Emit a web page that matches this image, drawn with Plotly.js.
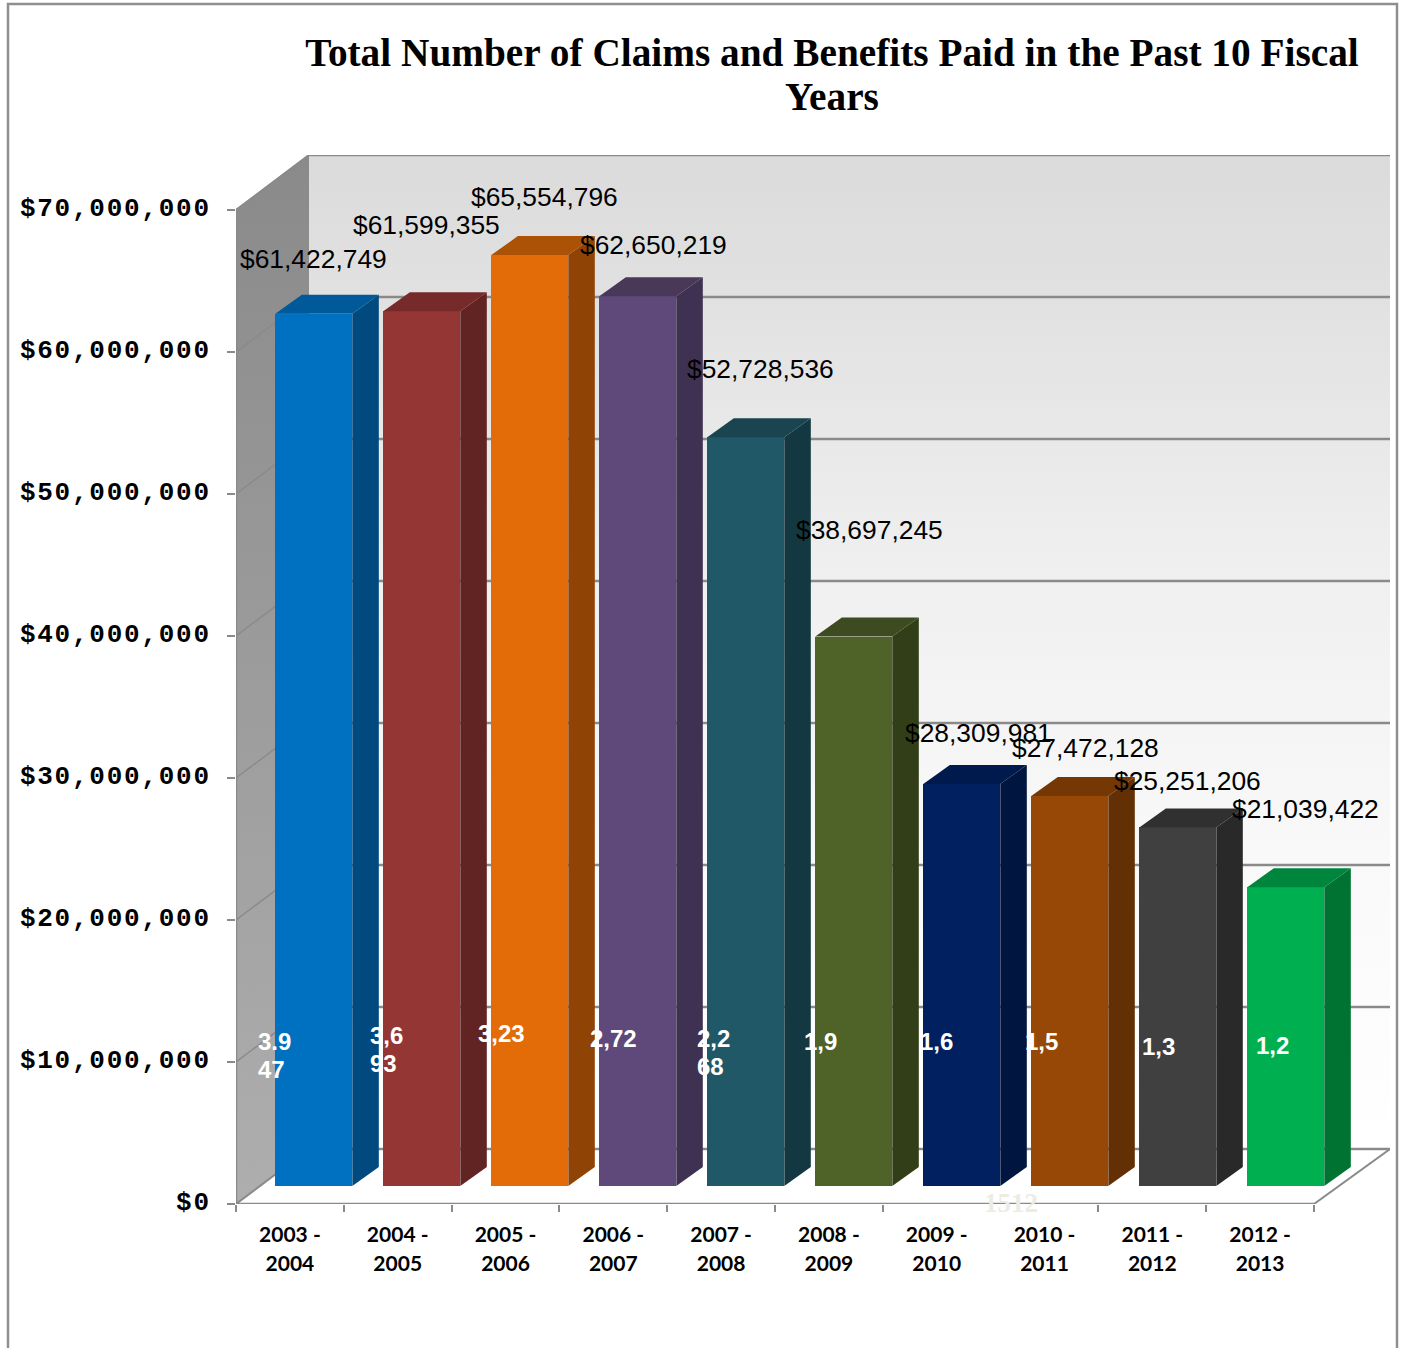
<!DOCTYPE html>
<html>
<head>
<meta charset="utf-8">
<script src="https://cdn.plot.ly/plotly-3.0.1.min.js"></script>
<style>
  html, body { margin: 0; padding: 0; background: #fff; }
  #chart { width: 1401px; height: 1348px; }
  .ytick text { letter-spacing: 1.75px; }
</style>
</head>
<body>
<div id="chart"></div>
<script>
// Fiscal years and benefits paid
const fiscalYears = ['2003 -<br>2004','2004 -<br>2005','2005 -<br>2006','2006 -<br>2007','2007 -<br>2008',
                     '2008 -<br>2009','2009 -<br>2010','2010 -<br>2011','2011 -<br>2012','2012 -<br>2013'];
const benefitsPaid = [61422749, 61599355, 65554796, 62650219, 52728536, 38697245, 28309981, 27472128, 25251206, 21039422];
const claimLabels = ['3.9<br>47','3,6<br>93','3,23','2,72','2,2<br>68','1,9','1,6','1,5','1,3','1,2'];
const valueTicks = [0, 10000000, 20000000, 30000000, 40000000, 50000000, 60000000, 70000000];

// Bar colours: front, right side, top
const frontColors = ['#0070C0','#943634','#E36C09','#5F497A','#205867','#4F6228','#002060','#974806','#404040','#00B050'];
const sideColors  = ['#004A80','#622423','#8F4406','#3F3151','#143841','#323E18','#00153F','#632F04','#292929','#007232'];
const topColors   = ['#005A9A','#762B2A','#AB5206','#4A3859','#1A444F','#3D4C20','#001A4E','#753805','#303030','#00853C'];

// Label nudges in pixels, relative to the top or foot of each bar's front face
const dollarNudgeX = [-0.3, 4.5, 14.3, 16.1, 14.9, 15.7, 16.5, 15.8, 9.6, 19.9];
const dollarNudgeY = [55, 86, 58, 51, 68, 107, 51, 48, 46, 78];
const claimNudgeX = [-18, -14.5, -14, -10, -11, -12, -4, -7, 1.6, 7.4];
const claimNudgeY = [159, 165, 167, 162, 162, 159, 159, 159, 154, 155];

// Geometry of the pseudo-3D box
const SLOT_PX = 107.8, BAR_PITCH = 108 / SLOT_PX, PX_PER_DOLLAR = 14.2 / 1e6;
const PLOT = { left: 236, right: 1390, top: 155, bottom: 1204 };
const DEPTH_X = 73 / SLOT_PX;               // category units across the floor depth
const DEPTH_Y = 55 / PX_PER_DOLLAR;         // dollars across the floor depth
const BAR_NEAR = 18 / 55, BAR_FAR = 37 / 55; // bar depth range on the floor
const BAR_WIDTH = 77 / SLOT_PX;
const BAR_FAR_WIDEN = 1.3 / SLOT_PX;        // slight extra skew on the bars' far edge
const X_RANGE = [-0.5, -0.5 + (PLOT.right - PLOT.left) / SLOT_PX];
const Y_RANGE = [0, (PLOT.bottom - PLOT.top) / PX_PER_DOLLAR];
const X_MIN = -0.5, X_MAX = 9.5, Y_TOP = 70000000;
const WALL_END = X_RANGE[1] - DEPTH_X;      // far right end of the back wall
const GRID = '#8a8a8a';

const project = (x, y, depth) => [x + depth * DEPTH_X, y + depth * DEPTH_Y];
function polygon(points) {
  const xs = [], ys = [];
  points.forEach(p => { const q = project(p[0], p[1], p[2]); xs.push(q[0]); ys.push(q[1]); });
  return { x: xs, y: ys };
}
const common = { showlegend: false, hoverinfo: 'skip', type: 'scatter' };

const traces = [];

// Back wall and left wall
traces.push(Object.assign({}, common, polygon([[X_MIN,0,1],[WALL_END,0,1],[WALL_END,Y_TOP,1],[X_MIN,Y_TOP,1],[X_MIN,0,1]]), {
  mode: 'none', fill: 'toself',
  fillgradient: { type: 'vertical', colorscale: [[0, '#ffffff'], [0.29, '#f9f9f9'], [0.57, '#f0f0f0'], [0.86, '#e1e1e1'], [1, '#dbdbdb']] }
}));
traces.push(Object.assign({}, common, polygon([[X_MIN,0,0],[X_MIN,0,1],[X_MIN,Y_TOP,1],[X_MIN,Y_TOP,0],[X_MIN,0,0]]), {
  mode: 'none', fill: 'toself',
  fillgradient: { type: 'vertical', colorscale: [[0, '#aeaeae'], [1, '#8a8a8a']] }
}));

// Gridlines run along the left wall and across the back wall
valueTicks.forEach(v => {
  if (v > 0) {
    traces.push(Object.assign({}, common, polygon([[X_MIN,v,0],[X_MIN,v,1]]), {
      mode: 'lines', line: { color: GRID, width: 1.5 }, cliponaxis: false
    }));
  }
  traces.push(Object.assign({}, common, polygon([[X_MIN,v,1],[WALL_END,v,1]]), {
    mode: 'lines', line: { color: GRID, width: 2.5 }, cliponaxis: false
  }));
});

// Floor edges and the two axis lines
[[[X_MIN,0,0],[X_MIN,0,1]], [[X_MAX,0,0],[WALL_END,0,1]]].forEach(edge => {
  traces.push(Object.assign({}, common, polygon(edge), {
    mode: 'lines', line: { color: GRID, width: 2 }, cliponaxis: false
  }));
});
traces.push(Object.assign({}, common, polygon([[X_MIN,Y_TOP,0],[X_MIN,0,0],[X_MAX,0,0]]), {
  mode: 'lines', line: { color: GRID, width: 2.5 }, cliponaxis: false
}));
traces.push(Object.assign({}, common, polygon([[X_MIN,Y_TOP,0],[X_MIN,Y_TOP,1]]), {
  mode: 'lines', line: { color: GRID, width: 2 }, cliponaxis: false
}));

// Front faces of the bars
const barIndex = benefitsPaid.map((_, i) => i);
const barSlot = i => i * BAR_PITCH;
traces.push({
  type: 'bar', xaxis: 'x2', yaxis: 'y2', showlegend: false, hoverinfo: 'skip',
  x: barIndex.map(i => project(barSlot(i), 0, BAR_NEAR)[0]),
  y: benefitsPaid,
  base: barIndex.map(() => project(0, 0, BAR_NEAR)[1]),
  width: BAR_WIDTH,
  marker: { color: frontColors, line: { width: 0 } }
});

// Right side and top faces, computed from each bar's value
benefitsPaid.forEach((value, i) => {
  const l = barSlot(i) - BAR_WIDTH / 2, r = barSlot(i) + BAR_WIDTH / 2;
  const lf = l + BAR_FAR_WIDEN, rf = r + BAR_FAR_WIDEN;
  traces.push(Object.assign({}, common, polygon([[r,0,BAR_NEAR],[rf,0,BAR_FAR],[rf,value,BAR_FAR],[r,value,BAR_NEAR],[r,0,BAR_NEAR]]), {
    xaxis: 'x2', yaxis: 'y2', mode: 'none', fill: 'toself', fillcolor: sideColors[i]
  }));
  traces.push(Object.assign({}, common, polygon([[l,value,BAR_NEAR],[r,value,BAR_NEAR],[rf,value,BAR_FAR],[lf,value,BAR_FAR],[l,value,BAR_NEAR]]), {
    xaxis: 'x2', yaxis: 'y2', mode: 'none', fill: 'toself', fillcolor: topColors[i]
  }));
});

// Dollar figures above the bars and white claim counts on them
const annotations = [];
benefitsPaid.forEach((value, i) => {
  const top = project(barSlot(i), value, BAR_NEAR);
  annotations.push({
    xref: 'x2', yref: 'y2', x: top[0], y: top[1], xanchor: 'center', yanchor: 'middle',
    xshift: dollarNudgeX[i], yshift: dollarNudgeY[i], showarrow: false, borderpad: 0,
    text: '$' + value.toLocaleString('en-US'),
    font: { family: 'Liberation Sans, Arial, sans-serif', size: 26.4, color: '#000' }
  });
  const foot = project(barSlot(i) - BAR_WIDTH / 2, 0, BAR_NEAR);
  annotations.push({
    xref: 'x2', yref: 'y2', x: foot[0], y: foot[1], xanchor: 'left', yanchor: 'top', align: 'left',
    xshift: claimNudgeX[i], yshift: claimNudgeY[i], showarrow: false, borderpad: 0,
    text: '<b>' + claimLabels[i] + '</b>',
    font: { family: 'Liberation Sans, Arial, sans-serif', size: 24, color: '#fff' }
  });
});
// Pale count left over beneath the 2009 - 2010 bar
annotations.push({
  xref: 'x2', yref: 'y2', x: 6.5, y: 0, xanchor: 'center', yanchor: 'middle',
  xshift: 20, yshift: 1, showarrow: false, borderpad: 0, text: '<b>1512</b>',
  font: { family: 'Liberation Serif, serif', size: 27, color: '#ecece4' }
});

// Outer frame, open at the bottom edge of the page
const paperX = px => (px - PLOT.left) / (PLOT.right - PLOT.left);
const paperY = px => (PLOT.bottom - px) / (PLOT.bottom - PLOT.top);
const shapes = [{
  type: 'path', xref: 'paper', yref: 'paper', layer: 'above',
  path: `M ${paperX(8)},${paperY(1348)} L ${paperX(8)},${paperY(4)} L ${paperX(1397)},${paperY(4)} L ${paperX(1397)},${paperY(1348)}`,
  line: { color: '#8f8f8f', width: 2.5 }
}];

const layout = {
  width: 1401, height: 1348, autosize: false,
  margin: { l: PLOT.left, r: 1401 - PLOT.right, t: PLOT.top, b: 1348 - PLOT.bottom, pad: 0 },
  paper_bgcolor: '#fff', plot_bgcolor: 'rgba(0,0,0,0)',
  bargap: 0,
  title: {
    text: '<b>Total Number of Claims and Benefits Paid in the Past 10 Fiscal<br>Years</b>',
    x: paperX(832), xanchor: 'center', xref: 'paper',
    y: 1 - 66 / 1348, yanchor: 'middle', yref: 'container',
    font: { family: 'Liberation Serif, serif', size: 39.3, color: '#000' }
  },
  xaxis: {
    range: X_RANGE, type: 'linear', showgrid: false, zeroline: false, showline: false,
    tickmode: 'array', tickvals: barIndex, ticktext: fiscalYears, ticks: '', ticklen: 0,
    ticklabelstandoff: 16,
    tickfont: { family: 'Lato, sans-serif', size: 21, color: '#000', weight: 700 }
  },
  xaxis2: {
    overlaying: 'x', anchor: 'y2', range: X_RANGE, type: 'linear', showgrid: false, zeroline: false, showline: false,
    tickmode: 'array', tickvals: [-0.5,0.5,1.5,2.5,3.5,4.5,5.5,6.5,7.5,8.5,9.5], ticks: 'outside', ticklen: 7,
    tickwidth: 2, tickcolor: GRID, showticklabels: false
  },
  yaxis: {
    range: Y_RANGE, type: 'linear', showgrid: false, zeroline: false, showline: false,
    tickmode: 'array', tickvals: valueTicks, tickformat: '$,.0f', ticks: 'outside', ticklen: 8,
    tickwidth: 2, tickcolor: GRID, ticklabelstandoff: 11,
    tickfont: { family: 'Liberation Mono, monospace', size: 26, color: '#000', weight: 700 }
  },
  yaxis2: { overlaying: 'y', anchor: 'x2', range: Y_RANGE, visible: false, fixedrange: true },
  annotations, shapes
};

// Set the spacing between wrapped text lines, in em
function setLineSpacing(selector, em) {
  document.querySelectorAll(selector).forEach(text => {
    text.querySelectorAll('tspan.line').forEach((line, n) => {
      if (n > 0) line.setAttribute('dy', (n * em) + 'em');
    });
  });
}

Plotly.newPlot('chart', traces, layout, { displayModeBar: false, staticPlot: true }).then(() => {
  setLineSpacing('.gtitle', 1.12);
  setLineSpacing('.xtick text', 1.38);
  setLineSpacing('.annotation-text', 1.17);
  // Lift the value labels to sit level with their tick marks
  document.querySelectorAll('.ytick text').forEach(t => {
    t.setAttribute('y', parseFloat(t.getAttribute('y')) - 3);
  });
});
</script>
</body>
</html>
